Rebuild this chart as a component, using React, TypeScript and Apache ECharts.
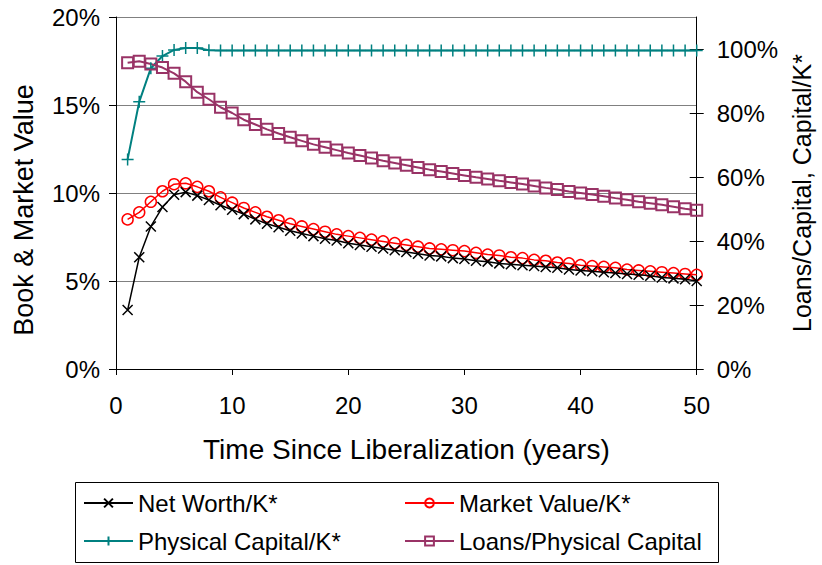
import React, { useEffect, useRef } from "react";
import * as echarts from "echarts";

const years = [
  1, 2, 3, 4, 5, 6, 7, 8, 9, 10, 11, 12, 13, 14, 15, 16, 17, 18, 19, 20, 21, 22, 23, 24, 25,
  26, 27, 28, 29, 30, 31, 32, 33, 34, 35, 36, 37, 38, 39, 40, 41, 42, 43, 44, 45, 46, 47, 48, 49, 50,
];

// left axis (% of K*)
const netWorth = [
  3.35, 6.35, 8.1, 9.2, 9.9, 10.05, 9.85, 9.6, 9.3, 9.05,
  8.8, 8.5, 8.25, 8.05, 7.85, 7.7, 7.55, 7.4, 7.3, 7.15,
  7.05, 6.95, 6.85, 6.75, 6.65, 6.55, 6.45, 6.4, 6.3, 6.25,
  6.15, 6.1, 6.0, 5.95, 5.9, 5.85, 5.8, 5.75, 5.65, 5.6,
  5.55, 5.5, 5.45, 5.4, 5.35, 5.3, 5.2, 5.15, 5.1, 5.0,
];
const marketValue = [
  8.5, 8.9, 9.5, 10.1, 10.5, 10.55, 10.35, 10.1, 9.75, 9.45,
  9.15, 8.9, 8.65, 8.45, 8.25, 8.1, 7.95, 7.8, 7.65, 7.55,
  7.45, 7.35, 7.25, 7.15, 7.05, 6.95, 6.85, 6.8, 6.75, 6.7,
  6.6, 6.5, 6.45, 6.35, 6.3, 6.2, 6.15, 6.05, 6.0, 5.9,
  5.85, 5.8, 5.75, 5.65, 5.6, 5.55, 5.5, 5.45, 5.4, 5.35,
];
// right axis (%)
const physicalCapital = [
  65.5, 83.5, 94, 97.8, 99.7, 100.3, 100.3, 99.6, 99.5, 99.5,
  99.5, 99.5, 99.5, 99.5, 99.5, 99.5, 99.5, 99.5, 99.5, 99.5,
  99.5, 99.5, 99.5, 99.5, 99.5, 99.5, 99.5, 99.5, 99.5, 99.5,
  99.5, 99.5, 99.5, 99.5, 99.5, 99.5, 99.5, 99.5, 99.5, 99.5,
  99.5, 99.5, 99.5, 99.5, 99.5, 99.5, 99.5, 99.5, 99.5, 99.5,
];
const loansToCapital = [
  95.7, 96.2, 95.3, 94.2, 92.4, 89.8, 86.5, 84.3, 81.8, 80.0,
  77.9, 76.4, 74.9, 73.6, 72.4, 71.3, 70.2, 69.3, 68.4, 67.5,
  66.7, 65.9, 65.1, 64.4, 63.7, 63.0, 62.3, 61.7, 61.1, 60.5,
  59.9, 59.4, 58.8, 58.3, 57.8, 57.2, 56.6, 56.1, 55.5, 55.0,
  54.5, 54.0, 53.4, 52.9, 52.3, 51.8, 51.3, 50.7, 50.1, 49.6,
];

const rightTicks = [0, 20, 40, 60, 80, 100];

const FONT = "Liberation Sans, Arial, sans-serif";

export default function App() {
  const ref = useRef<HTMLDivElement>(null);
  useEffect(() => {
    const chart = echarts.init(ref.current!, null, { renderer: "svg" });
    const pair = (arr: number[]) => years.map((y, i) => [y, arr[i]]);
    const legendText = { fontFamily: FONT, fontSize: 24, color: "#000", lineHeight: 24 };
    chart.setOption({
      animation: false,
      backgroundColor: "#fff",
      grid: { left: 116, right: 120, top: 17, bottom: 196 },
      xAxis: {
        type: "value",
        min: 0,
        max: 50,
        interval: 10,
        name: "Time Since Liberalization (years)",
        nameLocation: "middle",
        nameGap: 66,
        nameTextStyle: { fontFamily: FONT, fontSize: 28, color: "#000" },
        axisLine: { lineStyle: { color: "#000", width: 1 } },
        axisTick: { show: true, inside: false, length: 6, lineStyle: { color: "#000" } },
        axisLabel: { fontFamily: FONT, fontSize: 24, color: "#000", margin: 24 },
        splitLine: { show: false },
      },
      yAxis: [
        {
          type: "value",
          position: "left",
          min: 0,
          max: 20,
          interval: 5,
          name: "Book & Market Value",
          nameLocation: "middle",
          nameRotate: 90,
          nameGap: 79,
          nameTextStyle: { fontFamily: FONT, fontSize: 27, color: "#000", padding: [0, 34, 0, 0] },
          axisLine: { show: true, lineStyle: { color: "#000", width: 1 } },
          axisTick: { show: true, inside: false, length: 7, lineStyle: { color: "#000" } },
          axisLabel: { fontFamily: FONT, fontSize: 24, color: "#000", margin: 16, formatter: "{value}%" },
          splitLine: { show: true, lineStyle: { color: "#808080", width: 1 } },
        },
        {
          type: "value",
          position: "right",
          min: 0,
          max: 110,
          name: "Loans/Capital, Capital/K*",
          nameLocation: "middle",
          nameRotate: 90,
          nameGap: 92,
          nameTextStyle: { fontFamily: FONT, fontSize: 25, color: "#000" },
          axisLine: { show: true, lineStyle: { color: "#000", width: 1 } },
          axisTick: { show: true, inside: false, length: 7, lineStyle: { color: "#000" }, customValues: rightTicks },
          axisLabel: {
            fontFamily: FONT,
            fontSize: 24,
            color: "#000",
            margin: 20,
            formatter: "{value}%",
            customValues: rightTicks,
          },
          splitLine: { show: false },
        },
        {
          type: "value",
          position: "right",
          min: 0,
          max: 110,
          axisLine: { show: false },
          axisTick: { show: true, inside: true, length: 7, lineStyle: { color: "#000" }, customValues: rightTicks },
          axisLabel: { show: false },
          splitLine: { show: false },
        },
      ],
      legend: [
        {
          left: 83,
          top: 491,
          orient: "vertical",
          padding: 0,
          itemWidth: 49,
          itemHeight: 11,
          itemGap: 14,
          textStyle: legendText,
          data: ["Net Worth/K*", "Physical Capital/K*"],
        },
        {
          left: 404,
          top: 491,
          orient: "vertical",
          padding: 0,
          itemWidth: 49,
          itemHeight: 11,
          itemGap: 14,
          textStyle: legendText,
          data: ["Market Value/K*", "Loans/Physical Capital"],
        },
      ],
      graphic: [
        {
          type: "rect",
          shape: { x: 75.5, y: 482.5, width: 643, height: 80 },
          style: { fill: "none", stroke: "#000", lineWidth: 1 },
          silent: true,
        },
      ],
      series: [
        {
          name: "Net Worth/K*",
          type: "line",
          yAxisIndex: 0,
          data: pair(netWorth),
          showAllSymbol: true,
          symbol: "path://M0,0L10,10M10,0L0,10",
          symbolSize: 10,
          itemStyle: { color: "#000", borderColor: "#000", borderWidth: 1.5 },
          lineStyle: { color: "#000", width: 1.5 },
          z: 4,
        },
        {
          name: "Market Value/K*",
          type: "line",
          yAxisIndex: 0,
          data: pair(marketValue),
          showAllSymbol: true,
          symbol: "circle",
          symbolSize: 11,
          itemStyle: { color: "transparent", borderColor: "#ff0000", borderWidth: 1.5 },
          lineStyle: { color: "#ff0000", width: 1.5 },
          z: 3,
        },
        {
          name: "Physical Capital/K*",
          type: "line",
          yAxisIndex: 1,
          data: pair(physicalCapital),
          showAllSymbol: true,
          symbol: "path://M5,0L5,10M0,5L10,5",
          symbolSize: 12,
          itemStyle: { color: "#008080", borderColor: "#008080", borderWidth: 1.5 },
          lineStyle: { color: "#008080", width: 2 },
          z: 2,
        },
        {
          name: "Loans/Physical Capital",
          type: "line",
          yAxisIndex: 1,
          data: pair(loansToCapital),
          showAllSymbol: true,
          symbol: "rect",
          symbolSize: 11,
          itemStyle: { color: "transparent", borderColor: "#993366", borderWidth: 2 },
          lineStyle: { color: "#993366", width: 2 },
          z: 2,
        },
      ],
    });
    return () => chart.dispose();
  }, []);
  return (
    <div
      ref={ref}
      style={{ position: "absolute", left: 0, top: 0, width: 822, height: 565 }}
    />
  );
}
